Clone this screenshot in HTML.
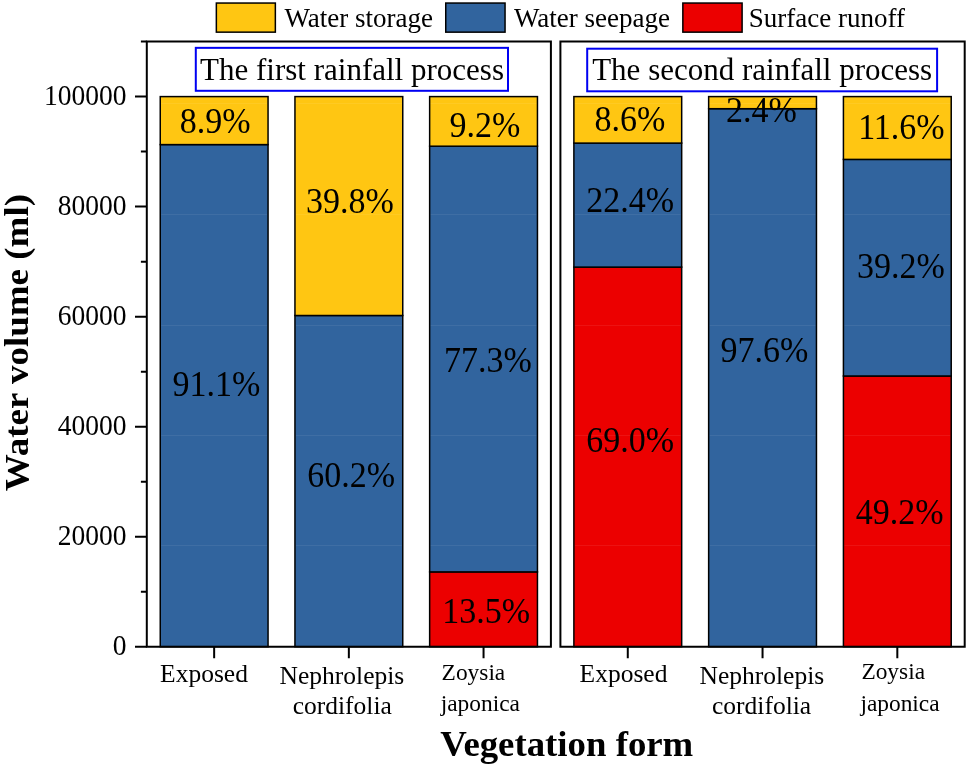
<!DOCTYPE html><html><head><meta charset="utf-8"><style>html,body{margin:0;padding:0;background:#fff;width:968px;height:766px;overflow:hidden}svg{display:block;will-change:transform}text{font-family:"Liberation Serif",serif;fill:#000}</style></head><body>
<svg width="968" height="766" viewBox="0 0 968 766">
<rect x="0" y="0" width="968" height="766" fill="#fff"/>
<rect x="216.35" y="3.05" width="59.00" height="29.10" fill="#FFC612" stroke="#000" stroke-width="1.5"/>
<text x="284.5" y="27" font-size="27">Water storage</text>
<rect x="445.75" y="3.05" width="59.30" height="29.10" fill="#31649E" stroke="#000" stroke-width="1.5"/>
<text x="513.9" y="27" font-size="27">Water seepage</text>
<rect x="682.85" y="3.05" width="59.25" height="29.10" fill="#EC0000" stroke="#000" stroke-width="1.5"/>
<text x="748.8" y="27" font-size="27">Surface runoff</text>
<rect x="160.25" y="144.60" width="107.80" height="502.10" fill="#31649E" stroke="#000" stroke-width="1.5"/>
<rect x="160.25" y="96.60" width="107.80" height="48.00" fill="#FFC612" stroke="#000" stroke-width="1.5"/>
<rect x="294.95" y="315.50" width="107.80" height="331.20" fill="#31649E" stroke="#000" stroke-width="1.5"/>
<rect x="294.95" y="96.60" width="107.80" height="218.90" fill="#FFC612" stroke="#000" stroke-width="1.5"/>
<rect x="429.65" y="571.90" width="107.80" height="74.80" fill="#EC0000" stroke="#000" stroke-width="1.5"/>
<rect x="429.65" y="146.20" width="107.80" height="425.70" fill="#31649E" stroke="#000" stroke-width="1.5"/>
<rect x="429.65" y="96.60" width="107.80" height="49.60" fill="#FFC612" stroke="#000" stroke-width="1.5"/>
<rect x="573.88" y="267.10" width="107.80" height="379.60" fill="#EC0000" stroke="#000" stroke-width="1.5"/>
<rect x="573.88" y="143.10" width="107.80" height="124.00" fill="#31649E" stroke="#000" stroke-width="1.5"/>
<rect x="573.88" y="96.60" width="107.80" height="46.50" fill="#FFC612" stroke="#000" stroke-width="1.5"/>
<rect x="708.65" y="108.70" width="107.80" height="538.00" fill="#31649E" stroke="#000" stroke-width="1.5"/>
<rect x="708.65" y="96.60" width="107.80" height="12.10" fill="#FFC612" stroke="#000" stroke-width="1.5"/>
<rect x="843.42" y="376.00" width="107.80" height="270.70" fill="#EC0000" stroke="#000" stroke-width="1.5"/>
<rect x="843.42" y="159.40" width="107.80" height="216.60" fill="#31649E" stroke="#000" stroke-width="1.5"/>
<rect x="843.42" y="96.60" width="107.80" height="62.80" fill="#FFC612" stroke="#000" stroke-width="1.5"/>
<rect x="161.25" y="103" width="105.80" height="1" fill="#fff" fill-opacity="0.07"/>
<rect x="161.25" y="214" width="105.80" height="1" fill="#fff" fill-opacity="0.07"/>
<rect x="161.25" y="325" width="105.80" height="1" fill="#fff" fill-opacity="0.07"/>
<rect x="161.25" y="435" width="105.80" height="1" fill="#fff" fill-opacity="0.07"/>
<rect x="161.25" y="545" width="105.80" height="1" fill="#fff" fill-opacity="0.07"/>
<rect x="295.95" y="103" width="105.80" height="1" fill="#fff" fill-opacity="0.07"/>
<rect x="295.95" y="214" width="105.80" height="1" fill="#fff" fill-opacity="0.07"/>
<rect x="295.95" y="325" width="105.80" height="1" fill="#fff" fill-opacity="0.07"/>
<rect x="295.95" y="435" width="105.80" height="1" fill="#fff" fill-opacity="0.07"/>
<rect x="295.95" y="545" width="105.80" height="1" fill="#fff" fill-opacity="0.07"/>
<rect x="430.65" y="103" width="105.80" height="1" fill="#fff" fill-opacity="0.07"/>
<rect x="430.65" y="214" width="105.80" height="1" fill="#fff" fill-opacity="0.07"/>
<rect x="430.65" y="325" width="105.80" height="1" fill="#fff" fill-opacity="0.07"/>
<rect x="430.65" y="435" width="105.80" height="1" fill="#fff" fill-opacity="0.07"/>
<rect x="430.65" y="545" width="105.80" height="1" fill="#fff" fill-opacity="0.07"/>
<rect x="574.88" y="103" width="105.80" height="1" fill="#fff" fill-opacity="0.07"/>
<rect x="574.88" y="214" width="105.80" height="1" fill="#fff" fill-opacity="0.07"/>
<rect x="574.88" y="325" width="105.80" height="1" fill="#fff" fill-opacity="0.07"/>
<rect x="574.88" y="435" width="105.80" height="1" fill="#fff" fill-opacity="0.07"/>
<rect x="574.88" y="545" width="105.80" height="1" fill="#fff" fill-opacity="0.07"/>
<rect x="709.65" y="103" width="105.80" height="1" fill="#fff" fill-opacity="0.07"/>
<rect x="709.65" y="214" width="105.80" height="1" fill="#fff" fill-opacity="0.07"/>
<rect x="709.65" y="325" width="105.80" height="1" fill="#fff" fill-opacity="0.07"/>
<rect x="709.65" y="435" width="105.80" height="1" fill="#fff" fill-opacity="0.07"/>
<rect x="709.65" y="545" width="105.80" height="1" fill="#fff" fill-opacity="0.07"/>
<rect x="844.42" y="103" width="105.80" height="1" fill="#fff" fill-opacity="0.07"/>
<rect x="844.42" y="214" width="105.80" height="1" fill="#fff" fill-opacity="0.07"/>
<rect x="844.42" y="325" width="105.80" height="1" fill="#fff" fill-opacity="0.07"/>
<rect x="844.42" y="435" width="105.80" height="1" fill="#fff" fill-opacity="0.07"/>
<rect x="844.42" y="545" width="105.80" height="1" fill="#fff" fill-opacity="0.07"/>
<path d="M146.8 41.4 V646.7 M145.8 646.7 H551.9 M145.8 41.4 H551.9 M550.9 41.4 V647.7" stroke="#000" stroke-width="2" fill="none"/>
<path d="M560.4 40.4 V647.7 M560.4 646.7 H965.7 M560.4 41.4 H965.7 M964.7 41.4 V647.7" stroke="#000" stroke-width="2" fill="none"/>
<path d="M135.00 646.70 H146.8 M140.90 591.69 H146.8 M135.00 536.68 H146.8 M140.90 481.67 H146.8 M135.00 426.66 H146.8 M140.90 371.65 H146.8 M135.00 316.64 H146.8 M140.90 261.63 H146.8 M135.00 206.62 H146.8 M140.90 151.61 H146.8 M135.00 96.60 H146.8 M140.90 41.59 H146.8" stroke="#000" stroke-width="2" fill="none"/>
<text transform="translate(126.5 654.80) scale(1 1.05)" font-size="27.5" text-anchor="end">0</text>
<text transform="translate(126.5 544.78) scale(1 1.05)" font-size="27.5" text-anchor="end">20000</text>
<text transform="translate(126.5 434.76) scale(1 1.05)" font-size="27.5" text-anchor="end">40000</text>
<text transform="translate(126.5 324.74) scale(1 1.05)" font-size="27.5" text-anchor="end">60000</text>
<text transform="translate(126.5 214.72) scale(1 1.05)" font-size="27.5" text-anchor="end">80000</text>
<text transform="translate(126.5 104.70) scale(1 1.05)" font-size="27.5" text-anchor="end">100000</text>
<path d="M214.15 646.7 V658.2 M348.85 646.7 V658.2 M483.55 646.7 V658.2 M627.78 646.7 V658.2 M762.55 646.7 V658.2 M897.32 646.7 V658.2" stroke="#000" stroke-width="2" fill="none"/>
<text x="160.1" y="682.2" font-size="25.5">Exposed</text>
<text x="279.6" y="683.8" font-size="25.5">Nephrolepis</text>
<text x="292.7" y="714.4" font-size="25.5">cordifolia</text>
<text x="441.6" y="679.5" font-size="23.4">Zoysia</text>
<text x="440.7" y="710.5" font-size="23.4">japonica</text>
<text x="579.6" y="681.9" font-size="25.5">Exposed</text>
<text x="699.5" y="683.8" font-size="25.5">Nephrolepis</text>
<text x="712.0" y="714.4" font-size="25.5">cordifolia</text>
<text x="861.4" y="679.1" font-size="23.4">Zoysia</text>
<text x="860.4" y="711.0" font-size="23.4">japonica</text>
<rect x="195.8" y="47.85" width="312.2" height="42.95" fill="none" stroke="#0000F2" stroke-width="2"/>
<text x="200.1" y="79.8" font-size="31">The first rainfall process</text>
<rect x="587.2" y="48.7" width="349.9" height="42.6" fill="none" stroke="#0000F2" stroke-width="2"/>
<text x="592.2" y="80.2" font-size="31">The second rainfall process</text>
<text transform="translate(215.1 133.4) scale(1 1.04)" font-size="34" text-anchor="middle">8.9%</text>
<text transform="translate(216.35 395.8) scale(1 1.04)" font-size="34" text-anchor="middle">91.1%</text>
<text transform="translate(349.9 213.2) scale(1 1.04)" font-size="34" text-anchor="middle">39.8%</text>
<text transform="translate(351.1 487.0) scale(1 1.04)" font-size="34" text-anchor="middle">60.2%</text>
<text transform="translate(484.85 136.6) scale(1 1.04)" font-size="34" text-anchor="middle">9.2%</text>
<text transform="translate(488.0 371.9) scale(1 1.04)" font-size="34" text-anchor="middle">77.3%</text>
<text transform="translate(486.1 622.9) scale(1 1.04)" font-size="34" text-anchor="middle">13.5%</text>
<text transform="translate(629.8 130.5) scale(1 1.04)" font-size="34" text-anchor="middle">8.6%</text>
<text transform="translate(630.1 212.3) scale(1 1.04)" font-size="34" text-anchor="middle">22.4%</text>
<text transform="translate(630.1 451.5) scale(1 1.04)" font-size="34" text-anchor="middle">69.0%</text>
<text transform="translate(761.4 122.0) scale(1 1.04)" font-size="34" text-anchor="middle">2.4%</text>
<text transform="translate(764.4 361.6) scale(1 1.04)" font-size="34" text-anchor="middle">97.6%</text>
<text transform="translate(901.4 138.75) scale(1 1.04)" font-size="34" text-anchor="middle">11.6%</text>
<text transform="translate(900.9 277.7) scale(1 1.04)" font-size="34" text-anchor="middle">39.2%</text>
<text transform="translate(899.6 523.5) scale(1 1.04)" font-size="34" text-anchor="middle">49.2%</text>
<text x="440.2" y="755.8" font-size="36.8" font-weight="bold">Vegetation form</text>
<text transform="translate(28.3 491.2) rotate(-90) scale(1 0.91)" x="0" y="0" font-size="37" font-weight="bold">Water volume (ml)</text>
</svg></body></html>
